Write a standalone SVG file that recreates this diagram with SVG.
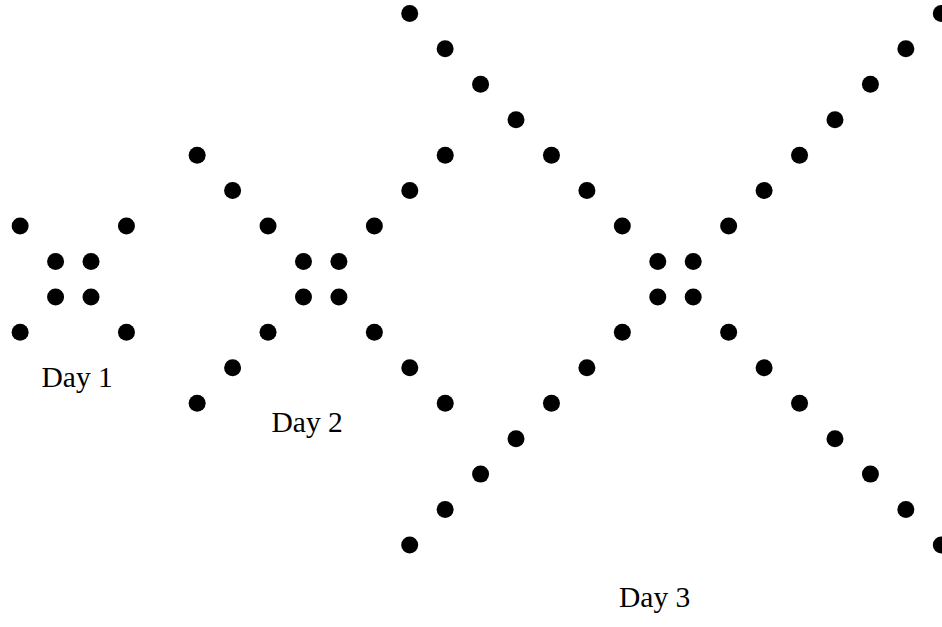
<svg xmlns="http://www.w3.org/2000/svg" width="942" height="627" viewBox="0 0 942 627">
<style>
.d{fill:#000}
.t{font-family:"Liberation Serif","Times New Roman",serif;font-size:29.5px;fill:#000}
</style>
<rect width="942" height="627" fill="#fff"/>
<g id="day1">
<circle class="d" cx="55.58" cy="261.48" r="8.5"/><circle class="d" cx="91.02" cy="261.48" r="8.5"/>
<circle class="d" cx="55.58" cy="296.92" r="8.5"/><circle class="d" cx="91.02" cy="296.92" r="8.5"/>
<circle class="d" cx="20.14" cy="226.04" r="8.5"/><circle class="d" cx="126.46" cy="226.04" r="8.5"/>
<circle class="d" cx="20.14" cy="332.36" r="8.5"/><circle class="d" cx="126.46" cy="332.36" r="8.5"/>
<text class="t" x="41.5" y="387.3">Day 1</text>
</g>
<g id="day2">
<circle class="d" cx="303.48" cy="261.48" r="8.5"/><circle class="d" cx="338.92" cy="261.48" r="8.5"/>
<circle class="d" cx="303.48" cy="296.92" r="8.5"/><circle class="d" cx="338.92" cy="296.92" r="8.5"/>
<circle class="d" cx="268.04" cy="226.04" r="8.5"/><circle class="d" cx="374.36" cy="226.04" r="8.5"/>
<circle class="d" cx="268.04" cy="332.36" r="8.5"/><circle class="d" cx="374.36" cy="332.36" r="8.5"/>
<circle class="d" cx="232.6" cy="190.6" r="8.5"/><circle class="d" cx="409.8" cy="190.6" r="8.5"/>
<circle class="d" cx="232.6" cy="367.8" r="8.5"/><circle class="d" cx="409.8" cy="367.8" r="8.5"/>
<circle class="d" cx="197.16" cy="155.16" r="8.5"/><circle class="d" cx="445.24" cy="155.16" r="8.5"/>
<circle class="d" cx="197.16" cy="403.24" r="8.5"/><circle class="d" cx="445.24" cy="403.24" r="8.5"/>
<text class="t" x="271.5" y="431.7">Day 2</text>
</g>
<g id="day3">
<circle class="d" cx="657.78" cy="261.48" r="8.5"/><circle class="d" cx="693.22" cy="261.48" r="8.5"/>
<circle class="d" cx="657.78" cy="296.92" r="8.5"/><circle class="d" cx="693.22" cy="296.92" r="8.5"/>
<circle class="d" cx="622.34" cy="226.04" r="8.5"/><circle class="d" cx="728.66" cy="226.04" r="8.5"/>
<circle class="d" cx="622.34" cy="332.36" r="8.5"/><circle class="d" cx="728.66" cy="332.36" r="8.5"/>
<circle class="d" cx="586.9" cy="190.6" r="8.5"/><circle class="d" cx="764.1" cy="190.6" r="8.5"/>
<circle class="d" cx="586.9" cy="367.8" r="8.5"/><circle class="d" cx="764.1" cy="367.8" r="8.5"/>
<circle class="d" cx="551.46" cy="155.16" r="8.5"/><circle class="d" cx="799.54" cy="155.16" r="8.5"/>
<circle class="d" cx="551.46" cy="403.24" r="8.5"/><circle class="d" cx="799.54" cy="403.24" r="8.5"/>
<circle class="d" cx="516.02" cy="119.72" r="8.5"/><circle class="d" cx="834.98" cy="119.72" r="8.5"/>
<circle class="d" cx="516.02" cy="438.68" r="8.5"/><circle class="d" cx="834.98" cy="438.68" r="8.5"/>
<circle class="d" cx="480.58" cy="84.28" r="8.5"/><circle class="d" cx="870.42" cy="84.28" r="8.5"/>
<circle class="d" cx="480.58" cy="474.12" r="8.5"/><circle class="d" cx="870.42" cy="474.12" r="8.5"/>
<circle class="d" cx="445.14" cy="48.84" r="8.5"/><circle class="d" cx="905.86" cy="48.84" r="8.5"/>
<circle class="d" cx="445.14" cy="509.56" r="8.5"/><circle class="d" cx="905.86" cy="509.56" r="8.5"/>
<circle class="d" cx="409.7" cy="13.4" r="8.5"/><circle class="d" cx="941.3" cy="13.4" r="8.5"/>
<circle class="d" cx="409.7" cy="545" r="8.5"/><circle class="d" cx="941.3" cy="545" r="8.5"/>
<text class="t" x="619" y="607.3">Day 3</text>
</g>
</svg>
